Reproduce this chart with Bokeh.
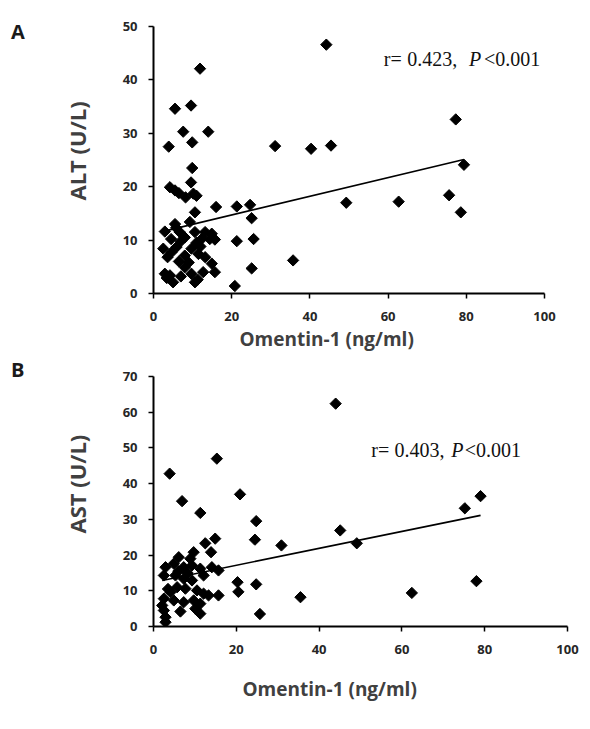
from math import pi
from bokeh.plotting import figure
from bokeh.models import Range1d, FixedTicker, Label, Title, Div
from bokeh.layouts import column, row
from bokeh.embed import file_html
from bokeh.resources import INLINE

# ---------------- data ----------------
x_ticks = [0, 20, 40, 60, 80, 100]
alt_ticks = [0, 10, 20, 30, 40, 50]
ast_ticks = [0, 10, 20, 30, 40, 50, 60, 70]

alt_omentin = [11.9, 5.5, 9.6, 7.6, 14.0, 3.9, 9.9, 31.1, 9.9, 9.6,
               4.2, 5.5, 6.5, 8.2, 10.2, 11.0,
               10.6, 16.0, 21.3, 24.7, 25.1,
               21.3, 25.6, 35.7, 25.1, 20.8,
               44.2, 77.3, 40.3, 45.4, 79.4, 49.3, 62.7, 75.6, 78.6,
               5.5, 9.3, 2.9, 6.7, 8.0, 10.6, 13.2, 14.9, 12.3, 14.4, 15.7,
               2.5, 4.6, 5.9, 8.0, 9.7, 11.5, 13.2, 14.9, 7.0, 11.0, 3.6,
               8.0, 12.7, 15.7, 2.9, 4.2, 5.0, 3.4, 9.7, 10.6, 11.3,
               4.5, 6.5, 9.0, 12.0, 7.0, 5.8]
alt_values = [42.1, 34.6, 35.2, 30.3, 30.3, 27.5, 28.3, 27.6, 23.5, 20.8,
              19.9, 19.3, 18.8, 18.0, 18.7, 18.3,
              15.2, 16.2, 16.3, 16.6, 14.1,
              9.8, 10.2, 6.2, 4.7, 1.4,
              46.6, 32.6, 27.1, 27.7, 24.1, 17.0, 17.2, 18.4, 15.2,
              13.0, 13.4, 11.6, 11.5, 10.5, 11.5, 11.5, 11.2, 10.2, 10.2, 10.1,
              8.4, 7.7, 8.7, 7.1, 8.4, 7.4, 6.8, 5.6, 9.8, 9.5, 6.8,
              4.9, 4.0, 4.0, 3.7, 3.4, 2.1, 2.9, 3.7, 2.1, 2.6,
              10.2, 6.0, 5.8, 8.8, 3.2, 12.3]

ast_omentin = [3.9, 15.3, 6.9, 11.3, 20.9, 24.8, 24.5, 30.9, 14.9, 12.5, 13.9,
               20.3, 20.5, 24.8, 25.7, 15.7, 35.5, 44.0, 79.0, 75.2, 45.1, 49.1,
               78.0, 62.4,
               6.1, 9.7, 8.9, 2.9, 4.9, 7.3, 9.3, 11.3, 14.1, 15.7, 12.1, 2.5,
               5.3, 7.3, 9.3, 5.7, 7.7, 4.1, 10.5, 12.1, 13.3, 2.5, 4.9, 7.3,
               9.7, 11.3, 2.1, 2.5, 6.5, 10.1, 11.3, 2.9, 2.9, 6.0, 8.2, 3.5]
ast_values = [42.8, 47.0, 35.1, 31.8, 37.0, 29.5, 24.3, 22.7, 24.6, 23.3, 20.8,
              12.4, 9.7, 11.8, 3.5, 8.7, 8.2, 62.4, 36.5, 33.1, 26.9, 23.3,
              12.7, 9.4,
              19.4, 20.8, 19.0, 16.6, 17.6, 16.6, 17.1, 16.2, 16.6, 15.7, 14.3, 14.3,
              14.3, 13.4, 12.9, 11.0, 10.6, 9.6, 10.1, 9.2, 8.7, 7.8, 7.3, 6.8,
              7.3, 6.4, 5.9, 4.5, 4.2, 5.0, 3.6, 2.6, 1.2, 15.5, 15.0, 10.5]

# trend lines: [intercept, slope]
alt_trend = [11.2, 0.175]
ast_trend = [12.4, 0.237]

SANS = "Open Sans"
SERIF = "Liberation Serif"
LEFT_DIV = 20


def panel(xs, ys, trend, ymax, yticks, fw, fh, left, right, top, bottom,
          ylabel, ylabel_off, ylabel_standoff, xlabel_off, xlabel_standoff,
          stat, stat_pos):
    p = figure(frame_width=fw, frame_height=fh,
               x_range=Range1d(0, 100), y_range=Range1d(0, ymax),
               output_backend="svg", toolbar_location=None,
               min_border_left=left, min_border_right=right,
               min_border_top=top, min_border_bottom=bottom)
    p.outline_line_color = None
    p.xgrid.visible = False
    p.ygrid.visible = False
    p.background_fill_color = "white"
    p.border_fill_color = None
    p.xaxis.ticker = FixedTicker(ticks=x_ticks)
    p.yaxis.ticker = FixedTicker(ticks=yticks)
    for ax in (p.xaxis, p.yaxis):
        ax.axis_line_width = 2
        ax.axis_line_color = "black"
        ax.major_tick_line_width = 1.5
        ax.major_tick_line_color = "black"
        ax.major_tick_out = 5
        ax.major_tick_in = 0
        ax.minor_tick_line_color = None
        ax.major_label_text_font = SANS
        ax.major_label_text_font_style = "bold"
        ax.major_label_text_font_size = "13px"
        ax.major_label_text_color = "#262626"
    p.xaxis.major_label_standoff = 13
    p.yaxis.major_label_standoff = 11

    x0 = min(xs)
    x1 = max(xs)
    p.line([x0, x1], [trend[0] + trend[1] * x0, trend[0] + trend[1] * x1],
           line_color="black", line_width=1.6)
    p.scatter(xs, ys, marker="square", angle=pi / 4, size=8,
              fill_color="black", line_color="black")

    p.add_layout(Title(text=ylabel, align="left", offset=ylabel_off,
                       standoff=ylabel_standoff,
                       text_font=SANS, text_font_style="bold",
                       text_font_size="22px", text_color="#404040"), "left")
    p.add_layout(Title(text="Omentin-1 (ng/ml)", align="left", offset=xlabel_off,
                       standoff=xlabel_standoff,
                       text_font=SANS, text_font_style="bold",
                       text_font_size="19px", text_color="#404040"), "below")
    for (txt, sx, style) in zip(stat, stat_pos[0],
                                ["normal", "normal", "italic", "normal"]):
        p.add_layout(Label(x=sx, y=stat_pos[1], text=txt,
                           text_font=SERIF, text_font_style=style,
                           text_font_size="20px", text_color="#111111",
                           text_baseline="alphabetic"))
    return p


pa = panel(alt_omentin, alt_values, alt_trend, 50, alt_ticks,
           391, 267, 152 - LEFT_DIV, 39, 26, 74,
           "ALT (U/L)", 93, 55, 86, 0,
           ["r=", "0.423,", "P", "<0.001"], ([58.9, 64.9, 80.7, 84.5], 43.9))
pb = panel(ast_omentin, ast_values, ast_trend, 70, ast_ticks,
           414, 250, 153 - LEFT_DIV, 15, 9, 95,
           "AST (U/L)", 93, 55, 89, 34,
           ["r=", "0.403,", "P", "<0.001"], ([52.6, 58.2, 71.9, 75.2], 49.4))

letter_css = ("position:absolute;left:11px;font-family:'Open Sans';font-weight:bold;"
              "font-size:20px;line-height:normal;color:#1a1a1a;")
letters_html = ("<div style='position:relative;width:%dpx;height:715px'>"
                "<div style=\"%stop:18px\">A</div>"
                "<div style=\"%stop:356px\">B</div></div>"
                % (LEFT_DIV, letter_css, letter_css))
letters = Div(text=letters_html, width=LEFT_DIV, height=721, margin=0)

layout = row(letters, column(pa, pb, spacing=0), spacing=0)
open("out.html", "w").write(file_html(layout, INLINE))
